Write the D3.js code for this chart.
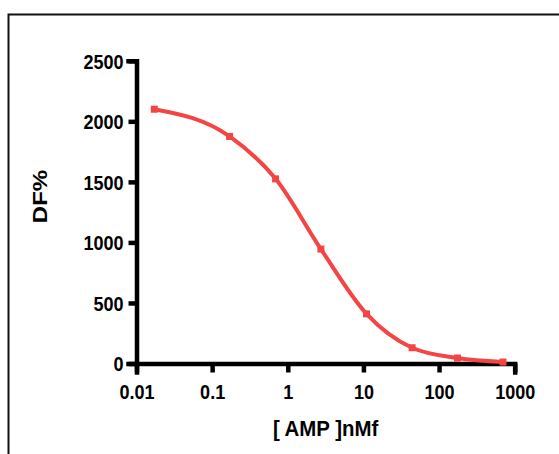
<!DOCTYPE html>
<html>
<head>
<meta charset="utf-8">
<script src="https://cdn.jsdelivr.net/npm/d3@7"></script>
<style>
  html, body { margin: 0; padding: 0; background: #fff; }
  svg { display: block; }
  text { font-family: "Liberation Sans", Arial, sans-serif; font-weight: bold; fill: #000; }
</style>
</head>
<body>
<svg id="chart" width="559" height="454"></svg>
<script>
// Data
const concentrations = [0.0172, 0.17, 0.69, 2.74, 11, 44, 175, 700];
const dfValues = [2100, 1875, 1525, 945, 410, 130, 45, 12];
const xTickValues = [0.01, 0.1, 1, 10, 100, 1000];
const xTickLabels = ["0.01", "0.1", "1", "10", "100", "1000"];
const yTickValues = [0, 500, 1000, 1500, 2000, 2500];
const xTitle = "[ AMP ]nMf";
const yTitle = "DF%";

(function () {
const W = 559, H = 454;
const mLeft = 136.5, mRight = 514.7, mTop = 60.8, mBottom = 363.5;
const red = "#f44444";
const sx = 0.88; // horizontal squeeze of the text seen in the reference

const svg = d3.select("#chart");

// outer frame (extends beyond the visible area on right/bottom)
svg.append("path")
  .attr("d", `M8.5,${H + 5} V14.5 H${W + 5}`)
  .attr("fill", "none").attr("stroke", "#111").attr("stroke-width", 2);

const x = d3.scaleLog().domain([0.01, 1000]).range([mLeft, mRight]);
const y = d3.scaleLinear().domain([0, 2500]).range([mBottom, mTop]);

const xAxis = d3.axisBottom(x)
  .tickValues(xTickValues)
  .tickFormat((d, i) => xTickLabels[i])
  .tickSize(9);
const yAxis = d3.axisLeft(y)
  .tickValues(yTickValues)
  .tickFormat(d3.format("d"))
  .tickSize(8);

const gx = svg.append("g").attr("transform", `translate(0,${mBottom})`).call(xAxis);
const gy = svg.append("g").attr("transform", `translate(${mLeft},0)`).call(yAxis);

[gx, gy].forEach(g => {
  g.selectAll("path.domain").attr("stroke", "#000").attr("stroke-width", 4.5).attr("stroke-linecap", "square").attr("stroke-linejoin", "miter");
  g.selectAll(".tick line").attr("stroke", "#000").attr("stroke-width", 4.5);
  g.selectAll(".tick text")
    .style("font-family", "'Liberation Sans', Arial, sans-serif")
    .style("font-weight", "bold")
    .style("font-size", "20.5px")
    .attr("fill", "#000");
});
gx.selectAll(".tick text")
  .attr("y", 0).attr("dy", null)
  .attr("transform", `translate(0,35.5) scale(${sx},1)`);
gy.selectAll(".tick text")
  .attr("x", 0).attr("dy", "0.36em")
  .attr("transform", `translate(-13,0) scale(${sx},1)`);

// axis titles
svg.append("text")
  .attr("transform", `translate(${(mLeft + mRight) / 2},435.5) scale(0.95,1)`)
  .attr("text-anchor", "middle")
  .style("font-size", "21.5px")
  .text(xTitle);
svg.append("text")
  .attr("transform", `translate(46.5,196.5) rotate(-90) scale(1,0.85)`)
  .attr("text-anchor", "middle")
  .style("font-size", "24px")
  .text(yTitle);

// fitted curve
const data = concentrations.map((c, i) => ({ c, v: dfValues[i] }));
const line = d3.line()
  .x(d => x(d.c)).y(d => y(d.v))
  .curve(d3.curveMonotoneX);
svg.append("path")
  .datum(data)
  .attr("d", line)
  .attr("fill", "none")
  .attr("stroke", red)
  .attr("stroke-width", 4)
  .attr("stroke-linecap", "round");

// markers
const s = 7;
svg.selectAll("rect.pt").data(data).enter().append("rect")
  .attr("class", "pt")
  .attr("x", d => x(d.c) - s / 2)
  .attr("y", d => y(d.v) - s / 2)
  .attr("width", s).attr("height", s)
  .attr("fill", red);
})();
</script>
</body>
</html>
